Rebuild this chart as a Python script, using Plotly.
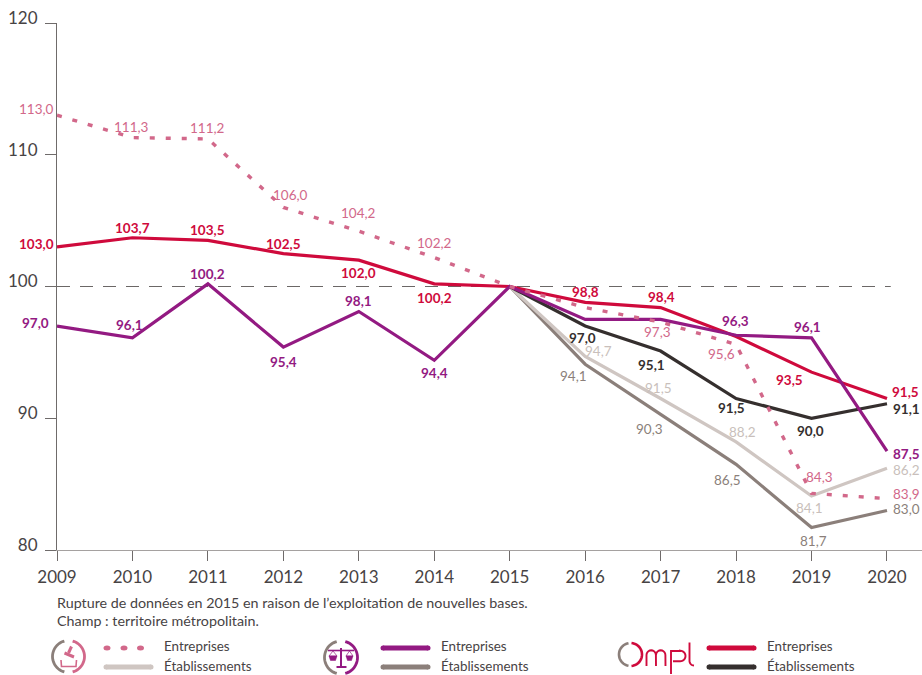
import math
import plotly.graph_objects as go

W, H = 922, 675
ML, MR, MT, MB = 57, 0, 23, 125
XMAX = 2020.464

years = [2009, 2010, 2011, 2012, 2013, 2014, 2015, 2016, 2017, 2018, 2019, 2020]
ent_inter = [113.0, 111.3, 111.2, 106.0, 104.2, 102.2, 100.0, 98.4, 97.3, 95.6, 84.3, 83.9]
ent_droit = [97.0, 96.1, 100.2, 95.4, 98.1, 94.4, 100.0, 97.5, 97.5, 96.3, 96.1, 87.5]
ent_ompl = [103.0, 103.7, 103.5, 102.5, 102.0, 100.2, 100.0, 98.8, 98.4, 96.2, 93.5, 91.5]
years_etab = [2015, 2016, 2017, 2018, 2019, 2020]
etab_inter = [100.0, 94.7, 91.5, 88.2, 84.1, 86.2]
etab_droit = [100.0, 94.1, 90.3, 86.5, 81.7, 83.0]
etab_ompl = [100.0, 97.0, 95.1, 91.5, 90.0, 91.1]
y_ticks = [80, 90, 100, 110, 120]

FONT = "Lato"
PINK, LIGHT = "#d2688a", "#cfc6c2"
PURPLE, TAUPE = "#931a82", "#8b7f7a"
RED, DARK = "#cf0a3c", "#352f2e"
TEXT = "#474344"
AXIS = "#6f6b6a"


def fmt(v):
    return f"{v:.1f}".replace(".", ",")


fig = go.Figure()
fig.add_trace(go.Scatter(x=[2009, 2020.05], y=[100, 100], mode="lines",
                         line=dict(color="#6b6766", width=1, dash="13px,10px")))
for xs, ys, col, width, dash in [
    (years_etab, etab_droit, TAUPE, 3.2, None),
    (years_etab, etab_inter, LIGHT, 3.2, None),
    (years_etab, etab_ompl, DARK, 3.2, None),
    (years, ent_ompl, RED, 3.2, None),
    (years, ent_droit, PURPLE, 3.2, None),
    (years, ent_inter, PINK, 3.4, "5px,11px"),
]:
    fig.add_trace(go.Scatter(x=xs, y=ys, mode="lines",
                             line=dict(color=col, width=width, dash=dash)))

# label offsets in px (dx, dy up) for every labelled point
off_inter = {2009: (-21, 6), 2010: (-1, 11), 2011: (0, 11), 2012: (7, 12), 2013: (0, 18), 2014: (0, 15),
             2017: (-3, -10), 2018: (-15, -10), 2019: (8, 16), 2020: (20, 5)}
off_ompl = {2009: (-21, 3), 2010: (0, 10), 2011: (0, 10), 2012: (0, 10), 2013: (0, -13), 2014: (0, -14),
            2016: (0, 10), 2017: (1, 11), 2019: (-22, -8), 2020: (19, 6)}
off_droit = {2009: (-22, 3), 2010: (-3, 13), 2011: (0, 10), 2012: (0, -15), 2013: (0, 11), 2014: (0, -13),
             2018: (-1, 14), 2019: (-4, 11), 2020: (20, -3)}
off_e_ompl = {2016: (-3, -12), 2017: (-9, -14), 2018: (-5, -10), 2019: (-1, -13), 2020: (20, -5)}
off_e_inter = {2016: (13, 5), 2017: (-2, 10), 2018: (6, 10), 2019: (-2, -12), 2020: (20, -2)}
off_e_droit = {2016: (-12, -12), 2017: (-11, -15), 2018: (-9, -16), 2019: (2, -13), 2020: (20, 1)}

annots = []
for xs, ys, col, offs, weight in [
    (years, ent_inter, PINK, off_inter, 400),
    (years, ent_ompl, RED, off_ompl, 700),
    (years, ent_droit, PURPLE, off_droit, 700),
    (years_etab, etab_ompl, DARK, off_e_ompl, 700),
    (years_etab, etab_inter, "#c9bfbb", off_e_inter, 400),
    (years_etab, etab_droit, TAUPE, off_e_droit, 400),
]:
    for x, y in zip(xs, ys):
        if x in offs:
            dx, dy = offs[x]
            annots.append(dict(x=x, y=y, xref="x", yref="y", text=fmt(y), showarrow=False,
                               xshift=dx, yshift=dy, xanchor="center", yanchor="middle",
                               font=dict(family=FONT, size=13.5, color=col, weight=weight)))


def px(x):
    return (x - ML) / (W - ML - MR)


def py(y):
    return 1 - (y - MT) / (H - MT - MB)


def note(x, y, txt, size=13):
    annots.append(dict(x=px(x), y=py(y), xref="paper", yref="paper", text=txt, showarrow=False,
                       xanchor="left", yanchor="middle", font=dict(family=FONT, size=size, color=TEXT)))


note(54.5, 602, "Rupture de données en 2015 en raison de l’exploitation de nouvelles bases.", 14.3)
note(54.5, 620, "Champ : territoire métropolitain.", 14.3)
for tx in (162, 439, 765):
    note(tx, 646, "Entreprises", 13.4)
    note(tx, 666, "Établissements", 13.4)

shapes = []


def stroke(points, col, w=2.0):
    d = "M" + " L".join(f"{px(a):.5f},{py(b):.5f}" for a, b in points)
    shapes.append(dict(type="path", path=d, xref="paper", yref="paper",
                       line=dict(color=col, width=w)))


def fill(points, col):
    d = "M" + " L".join(f"{px(a):.5f},{py(b):.5f}" for a, b in points) + " Z"
    shapes.append(dict(type="path", path=d, xref="paper", yref="paper",
                       fillcolor=col, line=dict(color=col, width=0.5)))


def arc_pts(cx, cy, rx, ry, a0, a1, n=24):
    return [(cx + rx * math.cos(math.radians(a0 + (a1 - a0) * i / n)),
             cy + ry * math.sin(math.radians(a0 + (a1 - a0) * i / n))) for i in range(n + 1)]


def arc(cx, cy, r, a0, a1, col, w=2.4, n=24):
    stroke(arc_pts(cx, cy, r, r, a0, a1, n), col, w)


def sample(x0, x1, y, col, w=5):
    stroke([(x0, y), (x1, y)], col, w)
    for xx in (x0, x1):
        shapes.append(dict(type="circle", xref="paper", yref="paper",
                           x0=px(xx - w / 2), x1=px(xx + w / 2), y0=py(y + w / 2), y1=py(y - w / 2),
                           fillcolor=col, line=dict(width=0)))


# legend samples
for xx in (107, 124, 140.5):
    shapes.append(dict(type="circle", xref="paper", yref="paper",
                       x0=px(xx - 3.5), x1=px(xx + 3.5), y0=py(650.5), y1=py(645.5),
                       fillcolor=PINK, line=dict(width=0)))
sample(106, 151, 667, LIGHT)
sample(383, 428, 648, PURPLE)
sample(383, 428, 667, TAUPE)
sample(709, 754, 648, RED)
sample(709, 754, 667, DARK)

# pictogram: stamp
arc(68.5, 656.5, 16, 105, 255, TAUPE, 2.8)
arc(68.5, 656.5, 16, -75, 75, PINK, 2.8)
stroke([(61, 660), (61.5, 666.5), (76, 666.5), (76.5, 660)], PINK, 1.6)
stroke([(64.5, 653), (74, 657)], PINK, 3)
stroke([(68.5, 653), (71.5, 646.5)], PINK, 3)

# pictogram: scales
arc(341, 657.5, 16.5, 105, 255, TAUPE, 2.8)
arc(341, 657.5, 16.5, -75, 75, PURPLE, 2.8)
stroke([(341, 648), (341, 667)], PURPLE, 2)
stroke([(336.5, 667), (346.5, 667)], PURPLE, 2)
stroke([(328, 650.5), (354, 650.5)], PURPLE, 1.6)
stroke([(333, 651), (329, 656), (337, 656), (333, 651)], PURPLE, 0.7)
stroke([(349.5, 651), (346, 656), (353, 656), (349.5, 651)], PURPLE, 0.7)
fill([(329, 656), (337, 656), (335.5, 660.5), (330.5, 660.5)], PURPLE)
fill([(346, 656), (353, 656), (351.5, 660.5), (347.5, 660.5)], PURPLE)

# logo: "Ompl" lettering drawn as strokes
arc(630.5, 654.5, 11.5, 100, 260, TAUPE, 2.6)
arc(630.5, 654.5, 11.5, -85, 85, RED, 2.6)
stroke([(646.5, 666)] + [(646.5, 655)] + arc_pts(651.2, 655, 4.7, 4.7, 180, 360, 10)
       + [(656, 666)], RED, 1.9)
stroke([(656, 655)] + arc_pts(660.7, 655, 4.7, 4.7, 180, 360, 10) + [(665.5, 666)], RED, 1.9)
stroke([(671, 674), (671, 651), (680, 651)] + arc_pts(680, 656, 5.5, 5.3, -90, 90, 12) + [(673, 661.3)],
       RED, 1.9)
stroke([(689.5, 642.5), (689.5, 661)] + arc_pts(694, 661, 4.5, 4.5, 180, 90, 8), RED, 1.9)

fig.update_layout(
    width=W, height=H, autosize=False, showlegend=False,
    margin=dict(l=ML, r=MR, t=MT, b=MB, pad=0),
    paper_bgcolor="white", plot_bgcolor="white",
    font=dict(family=FONT, color=TEXT),
    annotations=annots, shapes=shapes,
    xaxis=dict(range=[2009, XMAX], tickvals=years, ticks="outside", ticklen=10, tickwidth=1,
               tickcolor=AXIS, showgrid=False, zeroline=False, showline=True, linecolor="#a5a1a0",
               linewidth=1, ticklabelstandoff=2, tickfont=dict(family=FONT, size=17, color=TEXT)),
    yaxis=dict(range=[80, 120], tickvals=y_ticks, ticks="outside", ticklen=11, tickwidth=1,
               tickcolor=AXIS, showgrid=False, zeroline=False, showline=True, linecolor=AXIS,
               linewidth=1, ticklabelstandoff=4, ticklabelshift=-5,
               tickfont=dict(family=FONT, size=17, color=TEXT)),
)
fig.write_html("out.html", config={"displayModeBar": False},
               post_script="document.body.style.margin='0';document.body.style.overflow='hidden';")
